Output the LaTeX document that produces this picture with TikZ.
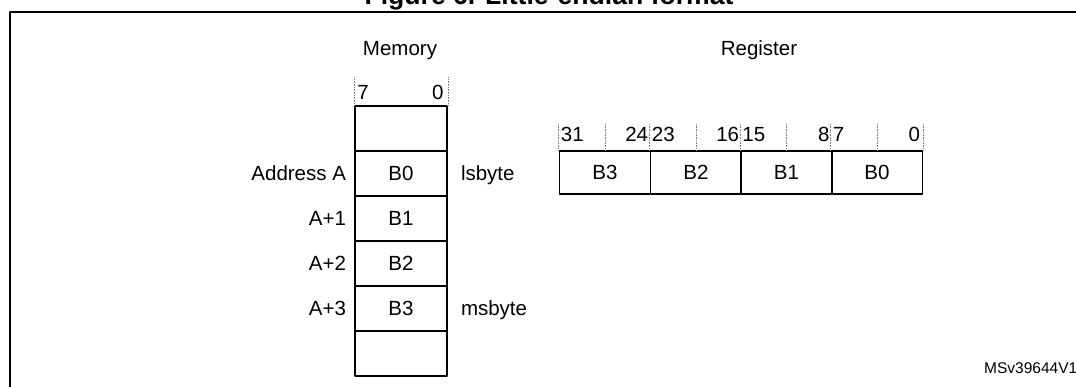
\documentclass[tikz,border=0pt]{standalone}
\usepackage{fontspec}
\setmainfont{Liberation Sans}
\usetikzlibrary{positioning}
\begin{document}
\begin{tikzpicture}[x=1pt,y=-1pt,line join=round,
  txt/.style={inner sep=0pt,font=\fontsize{20.5}{24}\selectfont,text height=14.7pt,text depth=0pt},
  cell/.style={txt,draw,line width=1.6pt,minimum width=92pt,minimum height=45pt},
  regcell/.style={cell,minimum width=91pt,minimum height=43pt},
  tick/.style={gray,densely dotted,line width=.6pt}]
\useasboundingbox (0,0) rectangle (1076,387);
% frame and title
\node[font=\fontsize{26.6}{30}\selectfont\bfseries,anchor=base,inner sep=0pt] (title) at (549,5) {Figure 6. Little-endian format};
\coordinate (fbl) at (10.3,400);
\coordinate (ftr) at (1090,12.2);
\draw[line width=2pt] (fbl) |- (ftr);
% memory
\node[txt] (memtitle) at (400,48) {Memory};
\foreach \i/\t in {0/,1/B0,2/B1,3/B2,4/B3,5/}
  \node[cell] (m\i) at (401,128.5+45*\i) {\t};
\draw[tick] (m0.north west) -- ++(0,-28);
\draw[tick] (m0.north east) -- ++(0,-28);
\node[txt,anchor=base west] (mhi) at ([shift={(3,-5.5)}]m0.north west) {7};
\node[txt,anchor=base east] (mlo) at ([shift={(-4,-5.5)}]m0.north east) {0};
\node[txt,left=8pt of m1] (addr0) {Address A};
\node[txt,left=8pt of m2] (addr1) {A+1};
\node[txt,left=8pt of m3] (addr2) {A+2};
\node[txt,left=8pt of m4] (addr3) {A+3};
\node[txt,right=13pt of m1] (lsb) {lsbyte};
\node[txt,right=13pt of m4] (msb) {msbyte};
% register
\node[txt] (regtitle) at (759,48) {Register};
\foreach \i/\x in {3/605,2/696,1/786.5,0/877}
  \node[regcell] (r\i) at (\x,172.5) {B\i};
\foreach \i in {0,...,3}{
  \draw[tick] (r\i.north west) -- ++(0,-26);
  \draw[tick] (r\i.north) -- ++(0,-26);
}
\draw[tick] (r0.north east) -- ++(0,-26);
\foreach \i/\bhi/\blo in {3/31/24,2/23/16,1/15/8,0/7/0}{
  \node[txt,anchor=base west] (hi\i) at ([shift={(2,-8.5)}]r\i.north west) {\bhi};
  \node[txt,anchor=base east] (lo\i) at ([shift={(-3,-8.5)}]r\i.north east) {\blo};
}
\node[inner sep=0pt,font=\fontsize{15.5}{18}\selectfont,anchor=base west] (docid) at (984,373.5) {MSv39644V1};
\end{tikzpicture}
\end{document}
